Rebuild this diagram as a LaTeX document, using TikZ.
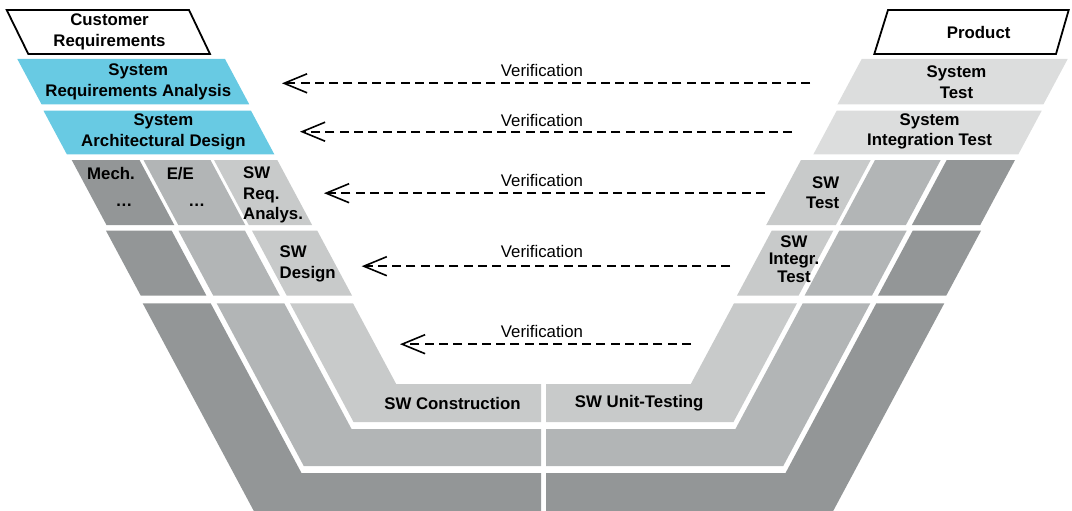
\documentclass[tikz,border=0pt]{standalone}
\usepackage{fontspec}
\setmainfont{Liberation Sans}
\usetikzlibrary{arrows.meta}

\definecolor{vcyan}{HTML}{68CAE3}
\definecolor{vtop}{HTML}{DCDDDD}
\definecolor{vlight}{HTML}{C8CACA}
\definecolor{vmid}{HTML}{B2B5B6}
\definecolor{vdark}{HTML}{939697}

% common lean of all bands (horizontal run per unit of drop)
\newcommand{\vslant}{0.535}
% slanted slab: colour, top y, bottom y, left x at top, right x at top
\newcommand{\vslab}[5]{%
  \fill[#1] (#4,#2) -- (#5,#2) -- ({#5+\vslant*(#3-#2)},#3)
            -- ({#4+\vslant*(#3-#2)},#3) -- cycle;}
% bent band of the V: colour, left x and right x at y=303.3,
% inner corner y, outer bottom y
\newcommand{\vband}[5]{%
  \fill[#1] (#2,303.3) -- (#3,303.3) -- ({#3+\vslant*(#4-303.3)},#4)
            -- (541,#4) -- (541,#5) -- ({#2+\vslant*(#5-303.3)},#5) -- cycle;}
% one half of the V (left arm; the right arm reuses it mirrored)
\newcommand{\vlowerhalf}{%
  \vband{vlight}{290}{353}{384}{422}
  \vband{vmid}{216.7}{284.3}{429}{466}
  \vband{vdark}{142.7}{210.7}{473}{516}}

\begin{document}
\begin{tikzpicture}[x=1pt,y=-1pt,
  lbl/.style={font=\bfseries\fontsize{16.8}{20.5}\selectfont,
              align=center, inner sep=0pt},
  ver/.style={font=\fontsize{16.8}{20}\selectfont, inner sep=0pt},
  verif/.style={draw=black, line width=1.6pt, dash pattern=on 9pt off 5.3pt,
                -{Straight Barb[length=23pt,width=19pt,line width=1.6pt]}},
  frame/.style={draw=black, line width=1.8pt, fill=white, line join=miter}]

\useasboundingbox (0,0) rectangle (1072,511);

% ---- left arm: development phases ----
\vslab{vcyan}{59}{104.3}{17.3}{225}
\vslab{vcyan}{110.7}{154.3}{43.5}{251}
\vslab{vdark}{160}{225}{71.7}{139.5}
\vslab{vmid}{160}{225}{143.5}{210.5}
\vslab{vlight}{160}{225}{214}{277.3}
\vslab{vdark}{230.7}{295.7}{106}{171.7}
\vslab{vmid}{230.7}{295.7}{178.5}{245}
\vslab{vlight}{230.7}{295.7}{252}{317.3}
\vlowerhalf

% ---- right arm: test phases (mirrored about x = 543.5) ----
\begin{scope}[xshift=1087pt, xscale=-1]
  \vslab{vtop}{59}{104.3}{19.3}{225.3}
  \vslab{vtop}{110.7}{154.3}{45.3}{250.3}
  \vslab{vdark}{160}{225}{72}{140.3}
  \vslab{vmid}{160}{225}{146.3}{212}
  \vslab{vlight}{160}{225}{216.3}{286}
  \vslab{vdark}{230.7}{295.7}{106}{174.3}
  \vslab{vmid}{230.7}{295.7}{180.3}{247.7}
  \vslab{vlight}{230.7}{295.7}{253.7}{315.3}
  \vlowerhalf
\end{scope}

% ---- input and output boxes ----
\draw[frame] (6.7,10) -- (189,10) -- (210,54) -- (28.3,54) -- cycle;
\draw[frame] (888,10) -- (1068.7,10) -- (1056,54) -- (874.3,54) -- cycle;
\node[lbl] (cust) at (109.5,32) {Customer\\Requirements};
\node[lbl] (prod) at (978.7,32.7) {Product};

% ---- phase labels ----
\node[lbl] (sra) at (138.3,81.7) {System\\Requirements Analysis};
\node[lbl] (sad) at (163.4,131.7) {System\\Architectural Design};
\node[lbl] (mech) at (111,173.3) {Mech.};
\node[lbl, anchor=base] (mechd) at (124,206.3) {…};
\node[lbl] (ee) at (180.3,173.3) {E/E};
\node[lbl, anchor=base] (eed) at (196.7,206.3) {…};
\node[lbl, align=left, anchor=west] (swra) at (243,195) {SW\\Req.\\Analys.};
\node[lbl, align=left, anchor=west] (swd) at (279.5,263.7) {SW\\Design};
\node[lbl] (st) at (956.5,82) {System\\Test};
\node[lbl] (sit) at (929.6,131.5) {System\\Integration Test};
\node[lbl, align=right, anchor=east] (swt) at (839.5,192.5) {SW\\Test};
\node[lbl, font=\bfseries\fontsize{16.8}{17.8}\selectfont] (swit) at (794,259.2) {SW\\Integr.\\Test};
\node[lbl] (swc) at (452.5,403.3) {SW Construction};
\node[lbl] (swu) at (639.2,403.3) {SW Unit-Testing};

% ---- verification links ----
\coordinate (a1) at (810,83.3);   \coordinate (b1) at (282,83.3);
\coordinate (a2) at (792,131.7);  \coordinate (b2) at (300,131.7);
\coordinate (a3) at (765,193.2);  \coordinate (b3) at (324,193.2);
\coordinate (a4) at (730,266.2);  \coordinate (b4) at (361.7,266.2);
\coordinate (a5) at (691,344.2);  \coordinate (b5) at (400,344.2);
\draw[verif] (a1) -- (b1);
\draw[verif] (a2) -- (b2);
\draw[verif] (a3) -- (b3);
\draw[verif] (a4) -- (b4);
\draw[verif] (a5) -- (b5);
\node[ver] (v1) at (542,70) {Verification};
\node[ver] (v2) at (542,120) {Verification};
\node[ver] (v3) at (542,180.7) {Verification};
\node[ver] (v4) at (542,251.7) {Verification};
\node[ver] (v5) at (542,331.7) {Verification};
\end{tikzpicture}
\end{document}
